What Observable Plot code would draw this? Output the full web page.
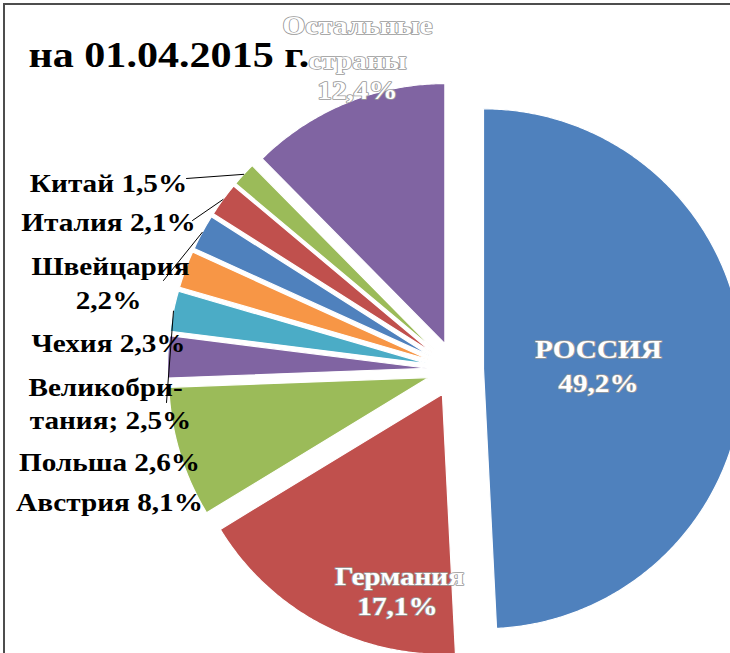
<!DOCTYPE html>
<html><head><meta charset="utf-8">
<script src="https://cdn.jsdelivr.net/npm/d3@7"></script>
<script src="https://cdn.jsdelivr.net/npm/@observablehq/plot@0.6"></script>
<style>
html,body{margin:0;padding:0;background:#fff;overflow:hidden;}
#wrap{position:relative;width:730px;height:653px;overflow:hidden;background:#fff;}
#frame{position:absolute;left:3px;top:3px;width:900px;height:900px;border-left:2px solid #4d4d4d;border-top:2px solid #4d4d4d;pointer-events:none;}
</style></head><body>
<div id="wrap"><div id="chart"></div><div id="frame"></div></div>
<script>
// ---- data ----
const countries = ["Россия", "Германия", "Австрия", "Польша", "Великобритания", "Чехия", "Швейцария", "Италия", "Китай", "Остальные страны"];
const shares = [49.2, 17.1, 8.1, 2.6, 2.5, 2.3, 2.2, 2.1, 1.5, 12.4];
const sliceColors = ["#4F81BD", "#C0504D", "#9BBB59", "#8064A2", "#4BACC6", "#F79646", "#4F81BD", "#C0504D", "#9BBB59", "#8064A2"];
const titleText = "на 01.04.2015 г.";

// label text lines (white outlined labels inside / near slices)
const lightLines = ["Остальные", "страны", "12,4%", "РОССИЯ", "49,2%", "Германия", "17,1%"];
// label text lines (black labels at the left)
const darkLines = ["Китай 1,5%", "Италия 2,1%", "Швейцария", "2,2%", "Чехия 2,3%", "Великобри-", "тания; 2,5%", "Польша 2,6%", "Австрия 8,1%"];
// countries that get a leader line
const leaderCountries = ["Китай", "Италия", "Швейцария", "Великобритания"];

// ---- layout (pixels) ----
const W = 730, H = 653;
const CX = 455, CY = 369, R = 260, EXPLODE = 28;
const lightPos = [[357, 25], [357, 60], [357, 90], [598, 349], [598, 383], [399, 576], [397, 606]];
const darkPos = [[108, 183], [108, 222], [110, 266], [108, 300], [108, 343], [105, 387], [110, 420], [109, 462], [109, 502]];
const leaderStart = [[186, 178], [192, 220], [163, 280], [166, 402]];

const px = v => (v - CX) / R;
const py = v => (CY - v) / R;

// ---- geometry from data ----
const arcs = d3.pie().sort(null).startAngle(0).endAngle(2 * Math.PI)(shares);
const ex = EXPLODE / R;
const slicePts = [];
arcs.forEach((a, i) => {
  const mid = (a.startAngle + a.endAngle) / 2;
  const ox = ex * Math.sin(mid), oy = ex * Math.cos(mid);
  const name = countries[i];
  slicePts.push({name, x: ox, y: oy});
  const n = Math.max(4, Math.ceil((a.endAngle - a.startAngle) / (Math.PI / 360)));
  for (let k = 0; k <= n; k++) {
    const t = a.startAngle + (a.endAngle - a.startAngle) * k / n;
    slicePts.push({name, x: ox + Math.sin(t), y: oy + Math.cos(t)});
  }
});

const leaderPts = [];
leaderCountries.forEach((c, j) => {
  const a = arcs[countries.indexOf(c)];
  const mid = (a.startAngle + a.endAngle) / 2;
  leaderPts.push({name: c, x: px(leaderStart[j][0]), y: py(leaderStart[j][1])});
  leaderPts.push({name: c, x: (1 + ex) * Math.sin(mid), y: (1 + ex) * Math.cos(mid)});
});

const lightData = lightLines.map((t, i) => ({t, x: px(lightPos[i][0]), y: py(lightPos[i][1])}));
const darkData = darkLines.map((t, i) => ({t, x: px(darkPos[i][0]), y: py(darkPos[i][1])}));
const titleData = [{t: titleText, x: px(28), y: py(55)}];

const font = "'Liberation Serif', 'Times New Roman', serif";

const chart = Plot.plot({
  width: W, height: H, margin: 0,
  style: {background: "transparent", overflow: "hidden"},
  x: {domain: [px(0), px(W)], axis: null},
  y: {domain: [py(H), py(0)], axis: null},
  color: {domain: countries, range: sliceColors},
  marks: [
    Plot.line(slicePts, {x: "x", y: "y", z: "name", fill: "name", stroke: "white", strokeWidth: 1.2, curve: "linear-closed"}),
    Plot.line(leaderPts, {x: "x", y: "y", z: "name", stroke: "black", strokeWidth: 1}),
    Plot.text(titleData, {x: "x", y: "y", text: "t", textAnchor: "start", fontFamily: font, fontWeight: "bold", fontSize: 36, fill: "black"}),
    Plot.text(darkData, {x: "x", y: "y", text: "t", fontFamily: font, fontWeight: "bold", fontSize: 25, fill: "black"}),
    Plot.text(lightData, {x: "x", y: "y", text: "t", fontFamily: font, fontWeight: "bold", fontSize: 25, fill: "white", stroke: "#9a9a9a", strokeWidth: 1.6, paintOrder: "stroke"})
  ]
});
document.getElementById("chart").appendChild(chart);

// widen the serif glyphs horizontally to match the reference's letter proportions
d3.select(chart).selectAll("text").each(function () {
  const tr = this.getAttribute("transform");
  if (tr && tr.includes("translate")) {
    this.setAttribute("transform", tr + " scale(1.17,1)");
  } else if (this.getAttribute("x") != null) {
    const x = this.getAttribute("x"), y = this.getAttribute("y") || 0;
    this.removeAttribute("x"); this.removeAttribute("y");
    this.setAttribute("transform", `translate(${x},${y}) scale(1.17,1)`);
  }
});
</script>
</body></html>
